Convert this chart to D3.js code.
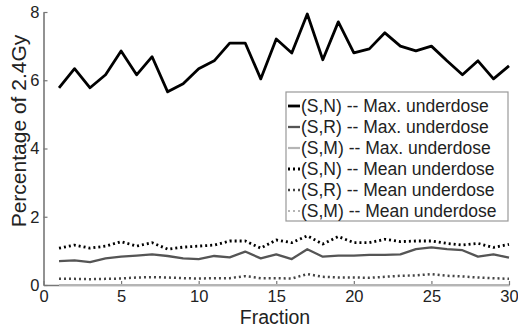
<!DOCTYPE html>
<html>
<head>
<meta charset="utf-8">
<script src="https://cdn.jsdelivr.net/npm/d3@7"></script>
<style>
  body { margin: 0; background: #fff; }
  svg { font-family: "Liberation Sans", Arial, Helvetica, sans-serif; }
</style>
</head>
<body>
<div id="chart"></div>
<script>
// data
const fractions = d3.range(1, 31);
const snMax = [5.78, 6.34, 5.78, 6.16, 6.86, 6.16, 6.69, 5.66, 5.9, 6.34,
               6.57, 7.09, 7.09, 6.04, 7.21, 6.8, 7.94, 6.6, 7.71, 6.8,
               6.92, 7.39, 7.0, 6.86, 7.0, 6.57, 6.16, 6.57, 6.04, 6.42];
const srMax = [0.7, 0.72, 0.67, 0.78, 0.83, 0.86, 0.9, 0.85, 0.78, 0.76,
               0.85, 0.81, 0.98, 0.78, 0.9, 0.76, 1.05, 0.83, 0.86, 0.86,
               0.88, 0.88, 0.9, 1.05, 1.1, 1.05, 1.02, 0.83, 0.9, 0.8];
const smMax = [0, 0, 0, 0, 0, 0, 0, 0, 0, 0, 0, 0, 0, 0, 0,
               0, 0, 0, 0, 0, 0, 0, 0, 0, 0, 0, 0, 0, 0, 0];
const snMean = [1.08, 1.17, 1.08, 1.14, 1.27, 1.14, 1.24, 1.05, 1.11, 1.14,
                1.17, 1.29, 1.29, 1.08, 1.32, 1.24, 1.44, 1.2, 1.42, 1.24,
                1.24, 1.34, 1.27, 1.29, 1.29, 1.22, 1.17, 1.22, 1.1, 1.19];
const srMean = [0.18, 0.18, 0.17, 0.18, 0.19, 0.22, 0.23, 0.22, 0.2, 0.19,
                0.2, 0.2, 0.26, 0.2, 0.2, 0.19, 0.32, 0.24, 0.22, 0.22,
                0.21, 0.24, 0.27, 0.28, 0.32, 0.27, 0.25, 0.22, 0.2, 0.18];
const smMean = [0, 0, 0, 0, 0, 0, 0, 0, 0, 0, 0, 0, 0, 0, 0,
                0, 0, 0, 0, 0, 0, 0, 0, 0, 0, 0, 0, 0, 0, 0];
const seriesNames = ["(S,N) -- Max. underdose", "(S,R) -- Max. underdose", "(S,M) -- Max. underdose",
                     "(S,N) -- Mean underdose", "(S,R) -- Mean underdose", "(S,M) -- Mean underdose"];
const xTicks = [0, 5, 10, 15, 20, 25, 30];
const yTicks = [0, 2, 4, 6, 8];

const width = 518, height = 327;
const margin = {top: 12, right: 9, bottom: 42, left: 43.5};

const series = [
  {name: seriesNames[0], values: snMax,  color: "#000",    width: 2.8, dash: null},
  {name: seriesNames[1], values: srMax,  color: "#555",    width: 2.3, dash: null},
  {name: seriesNames[2], values: smMax,  color: "#b5b5b5", width: 2.2, dash: null},
  {name: seriesNames[3], values: snMean, color: "#000",    width: 2.8, dash: "2,3"},
  {name: seriesNames[4], values: srMean, color: "#444",    width: 2.5, dash: "2,3"},
  {name: seriesNames[5], values: smMean, color: "#b5b5b5", width: 2.2, dash: "2,3"}
];

const svg = d3.select("#chart").append("svg")
  .attr("width", width)
  .attr("height", height);

const x = d3.scaleLinear().domain([0, 30]).range([margin.left, width - margin.right]);
const y = d3.scaleLinear().domain([0, 8]).range([height - margin.bottom, margin.top]);

// axes, ticks pointing inward like matlab
const xAxis = svg.append("g")
  .attr("transform", `translate(0,${y(0)})`)
  .call(d3.axisBottom(x).tickValues(xTicks).tickSize(-4).tickPadding(5).tickSizeOuter(0));
const yAxis = svg.append("g")
  .attr("transform", `translate(${x(0)},0)`)
  .call(d3.axisLeft(y).tickValues(yTicks).tickSize(-4).tickPadding(4).tickSizeOuter(0));

[xAxis, yAxis].forEach(a => {
  a.select(".domain").attr("stroke", "#777").attr("stroke-width", 1.6);
  a.selectAll(".tick line").attr("stroke", "#777").attr("stroke-width", 1.2);
  a.selectAll(".tick text").attr("fill", "#222").style("font-size", "16.5px");
});

// lines
const line = d3.line()
  .x((d, i) => x(fractions[i]))
  .y(d => y(d));

series.slice().reverse().forEach(s => {
  svg.append("path")
    .datum(s.values)
    .attr("fill", "none")
    .attr("stroke", s.color)
    .attr("stroke-width", s.width)
    .attr("stroke-dasharray", s.dash)
    .attr("stroke-linejoin", "round")
    .attr("d", line);
});

// axis labels
svg.append("text")
  .attr("transform", `translate(26,131) rotate(-90)`)
  .attr("text-anchor", "middle")
  .attr("fill", "#222")
  .style("font-size", "21px")
  .text("Percentage of 2.4Gy");

svg.append("text")
  .attr("x", 275)
  .attr("y", 323.5)
  .attr("text-anchor", "middle")
  .attr("fill", "#222")
  .style("font-size", "19.5px")
  .text("Fraction");

// legend
const legend = svg.append("g").attr("transform", "translate(286,92)");
legend.append("rect")
  .attr("width", 222)
  .attr("height", 129)
  .attr("fill", "#fff")
  .attr("stroke", "#999")
  .attr("stroke-width", 1.2);

const rows = legend.selectAll(".row")
  .data(series)
  .join("g")
  .attr("class", "row")
  .attr("transform", (d, i) => `translate(0,${14 + i * 21})`);

rows.append("line")
  .attr("x1", 2).attr("x2", 14)
  .attr("stroke", d => d.color)
  .attr("stroke-width", d => d.width)
  .attr("stroke-dasharray", d => d.dash);

rows.append("text")
  .attr("x", 15)
  .attr("dy", "0.35em")
  .attr("fill", "#222")
  .style("font-size", "17.5px")
  .text(d => d.name);
</script>
</body>
</html>
